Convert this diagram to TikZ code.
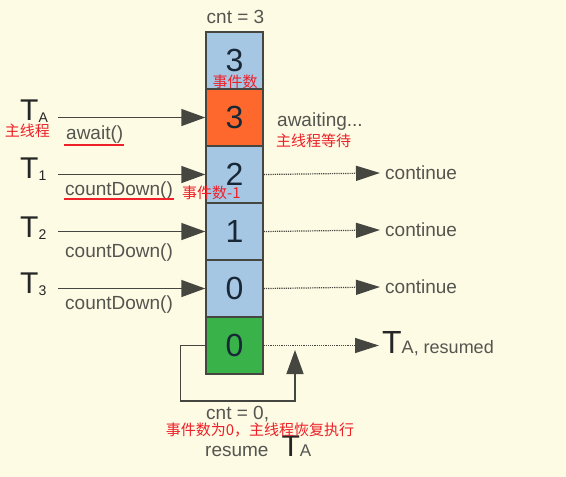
\documentclass[tikz,border=0pt]{standalone}
\usepackage{fontspec}
\setmainfont{Liberation Sans}
\newfontfamily\cjk{Noto Sans CJK SC}
\usetikzlibrary{arrows.meta}
\definecolor{bg}{RGB}{253,251,228}
\definecolor{cblue}{RGB}{166,199,228}
\definecolor{corange}{RGB}{255,104,44}
\definecolor{cgreen}{RGB}{57,178,74}
\definecolor{cred}{RGB}{238,32,40}
\definecolor{cgrey}{RGB}{85,85,80}
\definecolor{cnum}{RGB}{25,40,55}
\definecolor{cline}{RGB}{70,70,65}
\newcommand{\myfs}[1]{\fontsize{#1}{#1}\selectfont}
\begin{document}
\begin{tikzpicture}[x=1pt,y=-1pt,
  cell/.style={draw=cline, line width=1.5pt, minimum width=57pt, minimum height=57pt, inner sep=0pt, font=\myfs{32}, text=cnum},
  lbl/.style={text=cgrey, font=\myfs{19}, inner sep=0pt},
  zh/.style={text=cred, font=\cjk\myfs{15}, inner sep=0pt},
  big/.style={text=black!85, inner sep=0pt},
  arr/.style={draw=cline, line width=1.5pt, -{Triangle[length=24pt,width=17pt]}},
  darr/.style={draw=cline, line width=1.2pt, densely dotted, -{Triangle[length=24pt,width=15pt]}},
  uline/.style={draw=cred, line width=2pt}]
\useasboundingbox (0,0) rectangle (566,477);
\fill[bg] (0,0) rectangle (566,477);

% column of cells
\node[cell,fill=cblue]   (c1) at (234.5,60.5)  {3};
\node[cell,fill=corange] (c2) at (234.5,117.5) {3};
\node[cell,fill=cblue]   (c3) at (234.5,174.5) {2};
\node[cell,fill=cblue]   (c4) at (234.5,231.5) {1};
\node[cell,fill=cblue]   (c5) at (234.5,288.5) {0};
\node[cell,fill=cgreen]  (c6) at (234.5,345.5) {0};

\node[lbl] (cnt3) at (235.5,17) {cnt = 3};

% threads
\node[big, anchor=base west] (tA) at (20,120) {\myfs{30}T\raisebox{-2pt}{\myfs{14}A}};
\node[big, anchor=base west] (t1) at (20,178) {\myfs{30}T\raisebox{-2pt}{\myfs{14}1}};
\node[big, anchor=base west] (t2) at (20,237) {\myfs{30}T\raisebox{-2pt}{\myfs{14}2}};
\node[big, anchor=base west] (t3) at (20,293) {\myfs{30}T\raisebox{-2pt}{\myfs{14}3}};

\coordinate (sA) at (58,117.5);
\coordinate (s1) at (58,174.5);
\coordinate (s2) at (58,231.5);
\coordinate (s3) at (58,288.5);
\draw[arr] (sA) -- (c2.west);
\draw[arr] (s1) -- (c3.west);
\draw[arr] (s2) -- (c4.west);
\draw[arr] (s3) -- (c5.west);

\node[lbl, anchor=base west] (aw)  at (66,139) {await()};
\node[lbl, anchor=base west] (cd1) at (65,195) {countDown()};
\node[lbl, anchor=base west] (cd2) at (65,257) {countDown()};
\node[lbl, anchor=base west] (cd3) at (65,309) {countDown()};

\node[lbl, anchor=west] (awt) at (277,122) {awaiting...};

% continue arrows
\node[lbl, anchor=west] (k1) at (385,173) {continue};
\node[lbl, anchor=west] (k2) at (385,230) {continue};
\node[lbl, anchor=west] (k3) at (385,287) {continue};
\draw[darr] (c3.east) -- ([xshift=-5pt]k1.west);
\draw[darr] (c4.east) -- ([xshift=-5pt]k2.west);
\draw[darr] (c5.east) -- ([xshift=-5pt]k3.west);

\node[big, anchor=base west] (res) at (382,353) {\myfs{32}T\textcolor{cgrey}{\myfs{18}A, resumed}};
\coordinate (rt) at ([xshift=-3pt]res.west);
\draw[darr] (c6.east) -- (c6.east -| rt);

% loop back
\coordinate (lp) at (295,350);
\draw[arr] (c6.west) -- ++(-25,0) -- ++(0,55.5) -| (lp);

\node[lbl, anchor=base west] (cnt0) at (206,419) {cnt = 0,};
\node[lbl, anchor=base west] (rsm) at (205,456) {resume\hspace{13pt}\textcolor{black!85}{\myfs{30}T}\myfs{17}A};

% red annotations
\node[zh] (zA) at (27.5,131) {主线程};
\node[zh] (z1) at (235,82) {事件数};
\node[zh, anchor=west] (z2) at (182,193) {事件数-1};
\node[zh, anchor=west] (z3) at (276,141) {主线程等待};
\node[zh] (z4) at (260,430) {事件数为0，主线程恢复执行};

\draw[uline] ([xshift=-2pt,yshift=-6pt]aw.base west) -- ([xshift=1pt,yshift=-6pt]aw.base east);
\draw[uline] ([xshift=-1pt,yshift=-4pt]cd1.base west) -- ([xshift=1pt,yshift=-4pt]cd1.base east);
\end{tikzpicture}
\end{document}
